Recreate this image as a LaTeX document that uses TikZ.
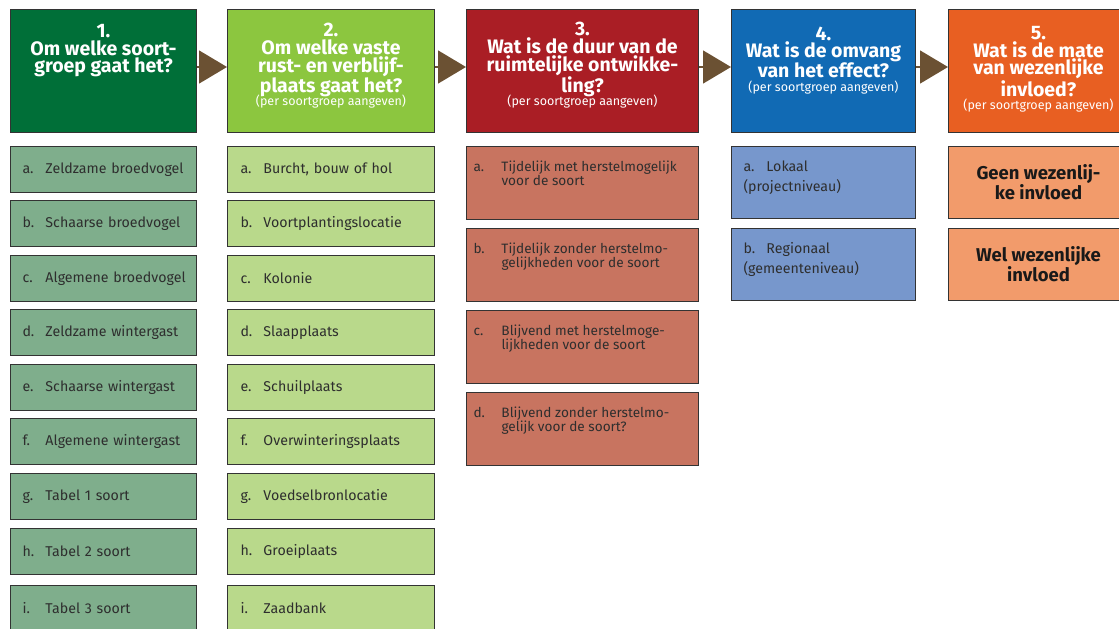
\documentclass[tikz,border=0pt]{standalone}
\usepackage{fontspec}
\setmainfont{Fira Sans}
\usetikzlibrary{positioning,arrows.meta}

\definecolor{kop1}{HTML}{006F38}
\definecolor{kop2}{HTML}{8CC63F}
\definecolor{kop3}{HTML}{AA1E25}
\definecolor{kop4}{HTML}{116AB4}
\definecolor{kop5}{HTML}{E85F22}
\definecolor{vak1}{HTML}{7FAE8C}
\definecolor{vak2}{HTML}{B9D98B}
\definecolor{vak3}{HTML}{C87460}
\definecolor{vak4}{HTML}{7797CC}
\definecolor{vak5}{HTML}{F29B6B}
\definecolor{pijlkleur}{HTML}{6B5133}
\definecolor{rand}{HTML}{333333}
\definecolor{tekstgrijs}{HTML}{2E2E2E}

\newcommand{\vaknr}[2][23pt]{\makebox[#1][l]{#2}}
\newcommand{\vakregel}[2]{\vaknr{#1}\mbox{#2}}
\newcommand{\sub}{\\[-4pt]{\fontsize{12.5}{13}\mdseries\selectfont (per soortgroep aangeven)}}

\begin{document}
\begin{tikzpicture}[x = 1pt, y = -1pt, line width = 1pt,
		kop/.style = {draw = rand, anchor = north west, minimum height = 123pt, inner sep = 0pt},
		koptekst/.style = {align = center, text = white, inner sep = 0pt,
			font = \bfseries\fontsize{19.5}{17.6}\selectfont},
		vak/.style = {draw = rand, anchor = north west, inner ysep = 0pt, align = left,
			text = tekstgrijs, font = \fontsize{14.2}{16}\selectfont},
		kol1/.style = {vak, fill = vak1, minimum height = 46pt, minimum width = 186pt,
			inner xsep = 12pt, text width = 162pt},
		kol2/.style = {vak, fill = vak2, minimum height = 46pt, minimum width = 207pt,
			inner xsep = 13pt, text width = 181pt},
		kol3/.style = {vak, fill = vak3, minimum height = 73pt, minimum width = 232pt, inner sep = 0pt},
		kol4/.style = {vak, fill = vak4, minimum height = 72pt, minimum width = 184pt, inner sep = 0pt},
		kol5/.style = {vak, fill = vak5, minimum height = 72pt, minimum width = 180pt,
			align = center, text = black!90, font = \bfseries\fontsize{18.5}{18.5}\selectfont},
		tekst3/.style = {anchor = north west, inner sep = 0pt, text = tekstgrijs,
			font = \fontsize{13.6}{14.5}\selectfont},
		tekst4/.style = {anchor = north west, inner sep = 0pt, text = tekstgrijs, align = left,
			font = \fontsize{14.2}{20}\selectfont},
		pijl/.style = {draw = pijlkleur, line width = 1.5pt, -{Triangle[length = 28pt, width = 33pt]}}]

	\useasboundingbox (0,0) rectangle (1119,629);

	% kopjes
	\node [kop, fill = kop1, minimum width = 186pt] (k_1) at (10,9) {};
	\node [kop, fill = kop2, minimum width = 207pt] (k_2) at (227,9) {};
	\node [kop, fill = kop3, minimum width = 232pt] (k_3) at (466,9) {};
	\node [kop, fill = kop4, minimum width = 184pt] (k_4) at (731,9) {};
	\node [kop, fill = kop5, minimum width = 180pt] (k_5) at (948,9) {};

	\node [koptekst, below = 15pt of k_1.north] (t_1) {1.\\Om welke soort-\\groep gaat het?};
	\node [koptekst, below = 14pt of k_2.north] (t_2) {2.\\Om welke vaste\\rust- en verblijf-\\plaats gaat het?\sub};
	\node [koptekst, below = 13pt of k_3.north] (t_3) {3.\\Wat is de duur van de\\ruimtelijke ontwikke-\\ling?\sub};
	\node [koptekst, below = 17pt of k_4.north] (t_4) {4.\\Wat is de omvang\\van het effect?\sub};
	\node [koptekst, below = 17pt of k_5.north] (t_5) {5.\\Wat is de mate\\van wezenlijke\\invloed?\sub};

	\draw [pijl] ([yshift = 4pt]k_1.east) -- ([yshift = 4pt]k_2.west);
	\draw [pijl] ([yshift = 4pt]k_2.east) -- ([yshift = 4pt]k_3.west);
	\draw [pijl] ([yshift = 4pt]k_3.east) -- ([yshift = 4pt]k_4.west);
	\draw [pijl] ([yshift = 4pt]k_4.east) -- ([yshift = 4pt]k_5.west);

	% 1. soortgroep
	\node [kol1] (s_a) at (10,146) {\vakregel{a.}{Zeldzame broedvogel}};
	\node [kol1] (s_b) at (10,200) {\vakregel{b.}{Schaarse broedvogel}};
	\node [kol1] (s_c) at (10,255) {\vakregel{c.}{Algemene broedvogel}};
	\node [kol1] (s_d) at (10,309) {\vakregel{d.}{Zeldzame wintergast}};
	\node [kol1] (s_e) at (10,364) {\vakregel{e.}{Schaarse wintergast}};
	\node [kol1] (s_f) at (10,418) {\vakregel{f.}{Algemene wintergast}};
	\node [kol1] (s_g) at (10,473) {\vakregel{g.}{Tabel 1 soort}};
	\node [kol1] (s_h) at (10,528) {\vakregel{h.}{Tabel 2 soort}};
	\node [kol1] (s_i) at (10,585) {\vakregel{i.}{Tabel 3 soort}};

	% 2. rust- en verblijfplaats
	\node [kol2] (p_a) at (227,146) {\vakregel{a.}{Burcht, bouw of hol}};
	\node [kol2] (p_b) at (227,200) {\vakregel{b.}{Voortplantingslocatie}};
	\node [kol2] (p_c) at (227,255) {\vakregel{c.}{Kolonie}};
	\node [kol2] (p_d) at (227,309) {\vakregel{d.}{Slaapplaats}};
	\node [kol2] (p_e) at (227,364) {\vakregel{e.}{Schuilplaats}};
	\node [kol2] (p_f) at (227,418) {\vakregel{f.}{Overwinteringsplaats}};
	\node [kol2] (p_g) at (227,473) {\vakregel{g.}{Voedselbronlocatie}};
	\node [kol2] (p_h) at (227,528) {\vakregel{h.}{Groeiplaats}};
	\node [kol2] (p_i) at (227,585) {\vakregel{i.}{Zaadbank}};

	% 3. duur
	\node [kol3] (d_a) at (466,146) {};
	\node [kol3] (d_b) at (466,228) {};
	\node [kol3] (d_c) at (466,310) {};
	\node [kol3] (d_d) at (466,392) {};
	\node [tekst3, below right = 14pt and 7pt of d_a.north west]
		{\vaknr[28pt]{a.}\parbox[t]{195pt}{Tijdelijk met herstelmogelijk\\voor de soort}};
	\node [tekst3, below right = 14pt and 7pt of d_b.north west]
		{\vaknr[28pt]{b.}\parbox[t]{195pt}{Tijdelijk zonder herstelmo-\\gelijkheden voor de soort}};
	\node [tekst3, below right = 14pt and 7pt of d_c.north west]
		{\vaknr[28pt]{c.}\parbox[t]{195pt}{Blijvend met herstelmoge-\\lijkheden voor de soort}};
	\node [tekst3, below right = 14pt and 7pt of d_d.north west]
		{\vaknr[28pt]{d.}\parbox[t]{195pt}{Blijvend zonder herstelmo-\\gelijk voor de soort?}};

	% 4. omvang
	\node [kol4] (o_a) at (731,146) {};
	\node [kol4] (o_b) at (731,228) {};
	\node [tekst4, below right = 14pt and 12pt of o_a.north west] {\vaknr{a.}Lokaal\\(projectniveau)};
	\node [tekst4, below right = 14pt and 12pt of o_b.north west] {\vaknr{b.}Regionaal\\(gemeenteniveau)};

	% 5. wezenlijke invloed
	\node [kol5] (w_a) at (948,146) {Geen wezenlij-\\ke invloed};
	\node [kol5] (w_b) at (948,228) {Wel wezenlijke\\invloed};
\end{tikzpicture}
\end{document}
